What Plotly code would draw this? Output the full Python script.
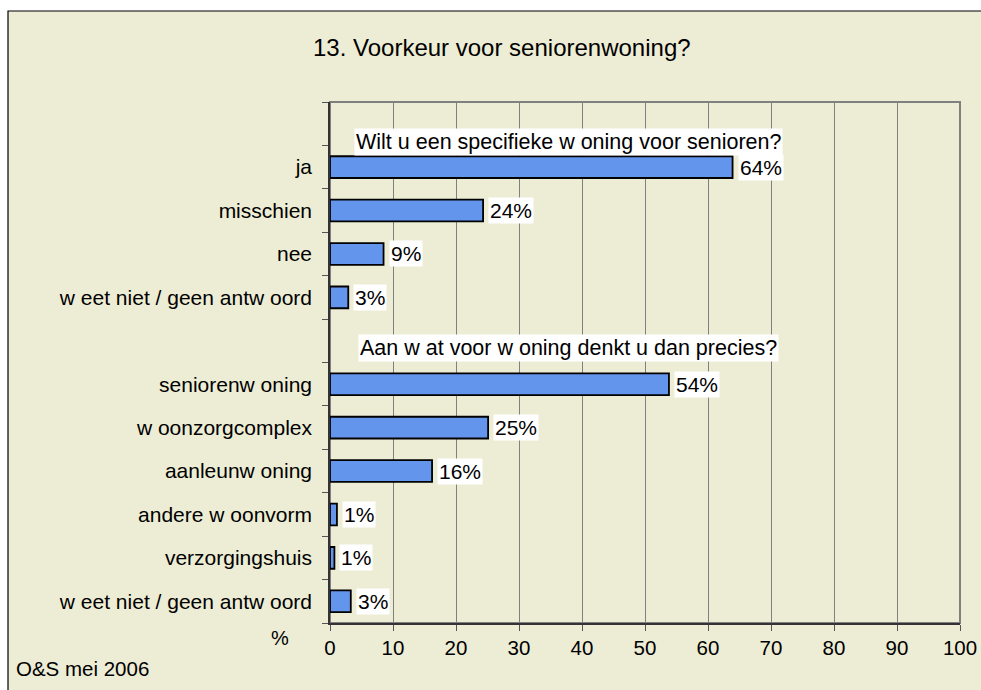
import plotly.graph_objects as go

# Data
categories = ["ja", "misschien", "nee", "w eet niet / geen antw oord",
              "seniorenw oning", "w oonzorgcomplex", "aanleunw oning",
              "andere w oonvorm", "verzorgingshuis", "w eet niet / geen antw oord"]
positions = [1, 2, 3, 4, 6, 7, 8, 9, 10, 11]
values = [63.9, 24.3, 8.5, 2.9, 53.8, 25.1, 16.2, 1.1, 0.7, 3.3]
value_labels = ["64%", "24%", "9%", "3%", "54%", "25%", "16%", "1%", "1%", "3%"]
group_titles = ["Wilt u een specifieke w oning voor senioren?",
                "Aan w at voor w oning denkt u dan precies?"]
group_title_pos = [0.42, 5.17]
title_text = "13. Voorkeur voor seniorenwoning?"
x_ticks = [0, 10, 20, 30, 40, 50, 60, 70, 80, 90, 100]

FONT = "Liberation Sans, Arial, sans-serif"
CREAM = "#EDEDD5"

fig = go.Figure()
fig.add_trace(go.Bar(
    x=values, y=positions, orientation="h", width=0.5,
    marker=dict(color="#6495ED", line=dict(color="black", width=1.8)),
    hoverinfo="skip", showlegend=False,
))

annotations = []
for v, p, lab in zip(values, positions, value_labels):
    annotations.append(dict(x=v, y=p, xref="x", yref="y", text=lab, showarrow=False,
                            xanchor="left", yanchor="middle", xshift=5,
                            bgcolor="white", borderpad=1,
                            font=dict(family=FONT, size=21, color="black")))
for t, p in zip(group_titles, group_title_pos):
    annotations.append(dict(x=37.8, y=p, xref="x", yref="y", text=t, showarrow=False,
                            xanchor="center", yanchor="middle", bgcolor="white", borderpad=1,
                            font=dict(family=FONT, size=21.5, color="black")))
annotations.append(dict(x=-0.079, y=-0.0288, xref="paper", yref="paper", text="%", showarrow=False,
                        xanchor="center", yanchor="middle",
                        font=dict(family=FONT, size=20, color="black")))
annotations.append(dict(x=-0.5016, y=-0.0864, xref="paper", yref="paper", text="O&S mei 2006",
                        showarrow=False, xanchor="left", yanchor="middle",
                        font=dict(family=FONT, size=20.5, color="black")))
annotations.append(dict(x=0.273, y=1.104, xref="paper", yref="paper", text=title_text,
                        showarrow=False, xanchor="center", yanchor="middle",
                        font=dict(family=FONT, size=24, color="black")))

shapes = [
    # outer cream frame
    dict(type="rect", xref="paper", yref="paper", x0=-0.5111, x1=1.3, y0=-0.3, y1=1.1747,
         fillcolor=CREAM, line=dict(color="black", width=1.2), layer="below"),
    # plot area border
    dict(type="rect", xref="paper", yref="paper", x0=0, x1=1, y0=0, y1=1,
         fillcolor="rgba(0,0,0,0)", line=dict(color="#808080", width=2), layer="below"),
]

fig.update_layout(
    width=981, height=690,
    margin=dict(l=330, r=21, t=102, b=67),
    paper_bgcolor="white", plot_bgcolor="white",
    font=dict(family=FONT, size=20, color="black"),
    annotations=annotations, shapes=shapes,
    xaxis=dict(range=[0, 100], tickvals=x_ticks, ticktext=[str(t) for t in x_ticks],
               showgrid=True, gridcolor="#808080", gridwidth=1.2,
               showline=True, linecolor="#333333", linewidth=1.6,
               ticks="outside", ticklen=6, tickcolor="#555555", tickwidth=1.2,
               tickfont=dict(family=FONT, size=20.5, color="black"),
               zeroline=False, fixedrange=True, automargin=False),
    yaxis=dict(range=[11.5, -0.5], tickvals=positions, ticktext=categories,
               showgrid=False, showline=True, linecolor="#333333", linewidth=1.6,
               ticks="", ticklen=0,
               minor=dict(tickvals=[i - 0.5 for i in range(13)], ticks="outside",
                          ticklen=6, tickcolor="#555555", tickwidth=1.2, showgrid=False),
               tickfont=dict(family=FONT, size=21, color="black"),
               ticklabelstandoff=12,
               zeroline=False, fixedrange=True, automargin=False),
)

fig.write_html(
    "out.html",
    config={"displayModeBar": False},
    post_script="document.body.style.margin='0';document.body.style.overflow='hidden';",
)
